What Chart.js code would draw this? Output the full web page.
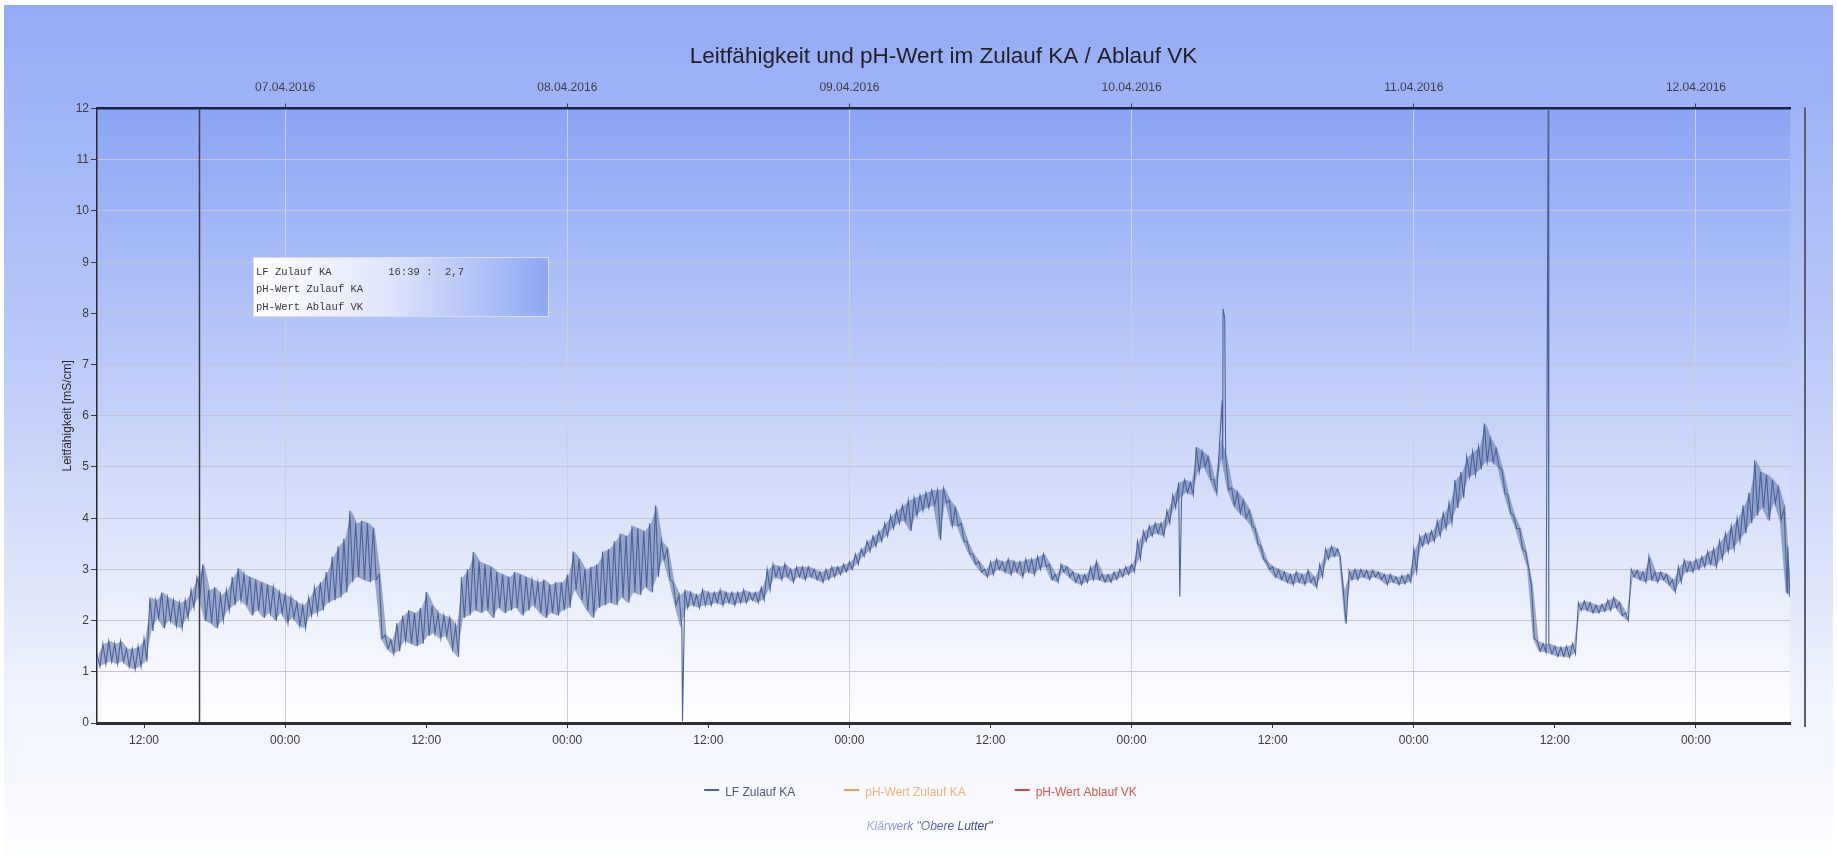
<!DOCTYPE html>
<html>
<head>
<meta charset="utf-8">
<title>Leitfähigkeit und pH-Wert im Zulauf KA / Ablauf VK</title>
<script src="https://cdn.jsdelivr.net/npm/chart.js@4.4.1/dist/chart.umd.min.js"></script>
<style>
  html, body { margin: 0; padding: 0; background: #ffffff; }
  canvas { display: block; }
</style>
</head>
<body>
<canvas id="chart" width="1837" height="861"></canvas>
<script>
// Hours are counted from 06.04.2016 00:00.
const axisStartHour = 8;     // 06.04.2016 08:00
const axisEndHour = 152;     // 12.04.2016 08:00

// Bottom axis: time of day
const timeTickHours = [12, 24, 36, 48, 60, 72, 84, 96, 108, 120, 132, 144];
const timeTickLabels = ['12:00', '00:00', '12:00', '00:00', '12:00', '00:00',
                        '12:00', '00:00', '12:00', '00:00', '12:00', '00:00'];

// Top axis: dates at midnight
const dateTickHours = [24, 48, 72, 96, 120, 144];
const dateTickLabels = ['07.04.2016', '08.04.2016', '09.04.2016',
                        '10.04.2016', '11.04.2016', '12.04.2016'];

// LF Zulauf KA [mS/cm]: lower and upper value of the signal in every half hour,
// starting at 06.04. 08:00 (one row = 12 hours).
const slotStart = 8;
const slotStep = 0.5;
const lfLow = [
  1.10, 1.15, 1.20, 1.15, 1.20, 1.10, 1.05, 1.10, 1.20, 1.80, 2.05, 1.85, 2.00, 1.90, 1.85, 2.05, 2.25, 2.45, 2.00, 1.95, 1.85, 2.00, 2.20, 2.30,
  2.40, 2.30, 2.10, 2.20, 2.05, 2.15, 2.00, 2.15, 1.95, 2.05, 1.90, 1.85, 2.10, 2.15, 2.20, 2.35, 2.40, 2.45, 2.55, 2.75, 2.85, 2.80, 2.75, 2.80,
  1.65, 1.45, 1.35, 1.40, 1.60, 1.55, 1.50, 1.55, 1.70, 1.75, 1.65, 1.70, 1.45, 1.29, 2.05, 2.10, 2.20, 2.15, 2.20, 2.05, 2.25, 2.15, 2.20, 2.25,
  2.10, 2.20, 2.30, 2.15, 2.05, 2.15, 2.10, 2.20, 2.25, 2.60, 2.40, 2.20, 2.05, 2.25, 2.30, 2.35, 2.30, 2.45, 2.35, 2.55, 2.50, 2.65, 2.55, 2.85,
  3.20, 2.80, 2.30, 1.85, 2.25, 2.30, 2.25, 2.30, 2.30, 2.35, 2.30, 2.35, 2.30, 2.35, 2.35, 2.40, 2.35, 2.40, 2.60, 2.85, 2.80, 2.85, 2.75, 2.85,
  2.80, 2.85, 2.80, 2.75, 2.80, 2.85, 2.90, 2.95, 3.00, 3.10, 3.25, 3.35, 3.45, 3.55, 3.65, 3.80, 3.90, 3.95, 3.75, 4.05, 4.15, 4.20, 4.25, 3.57,
  4.30, 3.85, 3.85, 3.55, 3.30, 3.10, 2.95, 2.85, 2.90, 3.00, 2.95, 2.90, 2.95, 2.85, 2.95, 2.90, 3.00, 3.05, 2.80, 2.75, 2.95, 2.85, 2.75, 2.70,
  2.75, 2.80, 2.80, 2.75, 2.75, 2.80, 2.85, 2.90, 2.95, 3.20, 3.55, 3.65, 3.70, 3.65, 3.90, 4.20, 4.40, 4.50, 4.45, 4.90, 5.00, 4.75, 4.48, 5.15,
  4.55, 4.25, 4.10, 4.00, 3.85, 3.50, 3.20, 3.00, 2.85, 2.80, 2.75, 2.70, 2.75, 2.70, 2.75, 2.65, 2.85, 3.20, 3.25, 3.25, 1.94, 2.80, 2.80, 2.85,
  2.80, 2.85, 2.80, 2.70, 2.75, 2.70, 2.72, 2.75, 2.95, 3.45, 3.50, 3.55, 3.65, 3.80, 3.90, 4.20, 4.40, 4.80, 4.85, 4.95, 5.10, 5.10, 5.00, 4.50,
  4.10, 3.80, 3.40, 3.05, 1.65, 1.40, 1.38, 1.35, 1.30, 1.30, 1.28, 1.35, 2.20, 2.20, 2.15, 2.15, 2.18, 2.20, 2.25, 2.10, 2.00, 2.85, 2.80, 2.75,
  2.80, 2.75, 2.80, 2.70, 2.56, 2.75, 2.95, 2.95, 3.00, 3.05, 3.10, 3.05, 3.20, 3.35, 3.40, 3.55, 3.70, 3.90, 4.05, 4.20, 3.95, 4.30, 3.96, 2.55,
  2.45
];
const lfHigh = [
  1.35, 1.55, 1.60, 1.55, 1.60, 1.45, 1.45, 1.50, 1.65, 2.45, 2.40, 2.55, 2.45, 2.40, 2.35, 2.40, 2.60, 2.85, 3.10, 2.60, 2.65, 2.50, 2.60, 2.85,
  3.02, 2.90, 2.85, 2.80, 2.75, 2.70, 2.65, 2.55, 2.50, 2.45, 2.35, 2.30, 2.45, 2.65, 2.75, 2.95, 3.25, 3.45, 3.60, 4.15, 3.90, 3.95, 3.90, 3.80,
  2.90, 1.72, 1.62, 1.95, 2.10, 2.20, 2.15, 2.25, 2.56, 2.30, 2.15, 2.10, 2.05, 1.90, 2.85, 3.00, 3.34, 3.15, 3.10, 3.05, 2.95, 2.90, 2.85, 2.95,
  2.90, 2.85, 2.80, 2.75, 2.80, 2.70, 2.75, 2.75, 2.90, 3.35, 3.20, 3.00, 3.05, 3.10, 3.35, 3.40, 3.55, 3.70, 3.65, 3.85, 3.80, 3.75, 3.90, 4.25,
  3.55, 3.40, 2.75, 2.50, 2.60, 2.55, 2.50, 2.60, 2.55, 2.55, 2.60, 2.55, 2.55, 2.55, 2.60, 2.55, 2.55, 2.65, 3.00, 3.10, 3.05, 3.10, 3.00, 3.05,
  3.05, 3.05, 3.00, 2.95, 3.00, 3.05, 3.05, 3.10, 3.15, 3.30, 3.40, 3.55, 3.65, 3.75, 3.90, 4.05, 4.15, 4.25, 4.35, 4.40, 4.45, 4.50, 4.55, 4.55,
  4.58, 4.35, 4.20, 3.90, 3.55, 3.30, 3.15, 3.00, 3.15, 3.20, 3.15, 3.20, 3.15, 3.15, 3.20, 3.20, 3.25, 3.30, 3.10, 2.90, 3.10, 3.05, 2.95, 2.90,
  2.90, 3.05, 3.15, 2.90, 2.90, 2.95, 3.00, 3.05, 3.10, 3.55, 3.75, 3.85, 3.90, 3.90, 4.15, 4.45, 4.70, 4.75, 4.70, 5.39, 5.30, 5.20, 4.75, 5.55,
  5.20, 4.60, 4.50, 4.35, 4.15, 3.80, 3.45, 3.15, 3.05, 3.00, 2.95, 2.90, 2.95, 2.90, 2.98, 2.85, 3.10, 3.40, 3.45, 3.40, 2.60, 2.98, 3.00, 3.00,
  2.98, 2.98, 2.95, 2.90, 2.90, 2.85, 2.88, 2.90, 3.40, 3.65, 3.70, 3.75, 3.95, 4.10, 4.30, 4.75, 4.90, 5.20, 5.30, 5.40, 5.85, 5.55, 5.35, 4.95,
  4.45, 4.05, 3.80, 3.35, 2.70, 1.60, 1.55, 1.55, 1.50, 1.48, 1.50, 1.55, 2.35, 2.38, 2.35, 2.30, 2.32, 2.40, 2.45, 2.35, 2.15, 3.00, 2.98, 2.95,
  3.25, 2.95, 2.95, 2.90, 2.80, 3.05, 3.18, 3.15, 3.20, 3.25, 3.35, 3.40, 3.55, 3.70, 3.85, 4.00, 4.25, 4.50, 5.13, 4.90, 4.85, 4.75, 4.60, 4.20,
  2.45
];

// Single readings between the half-hour slots (short spikes and the cursor reading)
const singleHours  = [16.65, 57.8, 100.1, 103.7, 103.78, 103.92, 131.43, 131.47, 151.8];
const singleValues = [2.7,   0.03, 2.47,  6.3,   8.09,   7.9,    12.0,   12.0,   3.45];

// Cursor position shown in the info box (16:39)
const cursorHour = 16.65;

const seriesNames  = ['LF Zulauf KA', 'pH-Wert Zulauf KA', 'pH-Wert Ablauf VK'];
const seriesColors = ['#4c6399', '#f0a04a', '#d8453a'];
const legendTextColors = ['#4e5878', '#f0b56e', '#d9574a'];
const lfBandColor = 'rgba(76, 99, 153, 0.5)';

// ---- LF series: upper value at the slot start, lower value half a slot later
const lfPoints = [];
lfLow.forEach((lo, i) => {
  const t = slotStart + i * slotStep;
  lfPoints.push({ x: t, y: lfHigh[i] });
  if (lo !== lfHigh[i]) lfPoints.push({ x: t + slotStep / 2, y: lo });
});
singleHours.forEach((h, i) => lfPoints.push({ x: h, y: singleValues[i] }));
lfPoints.sort((a, b) => a.x - b.x);

// ---- spread of the signal per slot, shaded between upper and lower value
const lfUpperEdge = lfHigh.map((v, i) => ({ x: slotStart + i * slotStep + slotStep / 4, y: v }));
const lfLowerEdge = lfLow.map((v, i) => ({ x: slotStart + i * slotStep + slotStep / 4, y: v }));

const FONT = "'Liberation Sans', Arial, sans-serif";
Chart.defaults.font.family = FONT;

function hourLabel(h) {
  const hh = Math.floor(h % 24);
  const mm = Math.round((h - Math.floor(h)) * 60);
  return String(hh).padStart(2, '0') + ':' + String(mm).padStart(2, '0');
}

// Backgrounds: page gradient and plot-area gradient
const backgroundPlugin = {
  id: 'backgrounds',
  beforeDraw(chart) {
    const { ctx, chartArea: a, width, height } = chart;
    ctx.save();
    ctx.fillStyle = '#ffffff';
    ctx.fillRect(0, 0, width, height);
    let g = ctx.createLinearGradient(0, 5, 0, height - 5);
    g.addColorStop(0, '#93aaf6');
    g.addColorStop(0.45, '#bfcdf8');
    g.addColorStop(0.8, '#eef2fd');
    g.addColorStop(1, '#fcfdff');
    ctx.fillStyle = g;
    ctx.fillRect(4, 5, width - 8, height - 10);
    g = ctx.createLinearGradient(0, a.top, 0, a.bottom);
    g.addColorStop(0, '#8aa5f4');
    g.addColorStop(0.5, '#c5d2f8');
    g.addColorStop(0.85, '#eff3fd');
    g.addColorStop(1, '#ffffff');
    ctx.fillStyle = g;
    ctx.fillRect(a.left, a.top, a.right - a.left, a.bottom - a.top);
    ctx.restore();
  }
};

// Cursor line, right frame, info box, legend and footer
const overlayPlugin = {
  id: 'overlay',
  afterDatasetsDraw(chart) {
    const { ctx, chartArea: a, scales } = chart;
    const x = Math.round(scales.x.getPixelForValue(cursorHour)) + 0.5;
    ctx.save();
    ctx.strokeStyle = '#3c3d44';
    ctx.lineWidth = 1.5;
    ctx.beginPath();
    ctx.moveTo(x, a.top);
    ctx.lineTo(x, a.bottom);
    ctx.stroke();
    ctx.restore();
  },
  afterDraw(chart) {
    const { ctx, chartArea: a } = chart;
    ctx.save();

    // frame line right of the plot
    ctx.strokeStyle = '#5b6070';
    ctx.lineWidth = 2;
    ctx.beginPath();
    ctx.moveTo(a.right + 15, a.top - 1);
    ctx.lineTo(a.right + 15, a.bottom + 4);
    ctx.stroke();

    // info box with the cursor reading
    const bx = 253, by = 257, bw = 296, bh = 60;
    const g = ctx.createLinearGradient(bx, 0, bx + bw, 0);
    g.addColorStop(0, '#ffffff');
    g.addColorStop(0.45, '#dfe6fb');
    g.addColorStop(1, '#8ea7f4');
    ctx.fillStyle = g;
    ctx.fillRect(bx, by, bw, bh);
    ctx.strokeStyle = '#d6dcef';
    ctx.lineWidth = 1;
    ctx.strokeRect(bx + 0.5, by + 0.5, bw - 1, bh - 1);

    const ci = singleHours.indexOf(cursorHour);
    const reading = singleValues[ci].toFixed(1).replace('.', ',');
    const lines = [
      seriesNames[0].padEnd(21, ' ') + hourLabel(cursorHour) + ' :  ' + reading,
      seriesNames[1],
      seriesNames[2]
    ];
    ctx.font = "10.5px 'Liberation Mono', 'DejaVu Sans Mono', monospace";
    ctx.fillStyle = '#3a3a3a';
    ctx.textAlign = 'left';
    ctx.textBaseline = 'middle';
    lines.forEach((t, i) => ctx.fillText(t, bx + 3, by + 15 + i * 17.5));

    // legend
    ctx.font = '12px ' + FONT;
    const mark = 15, gap = 6, itemGap = 49;
    const widths = seriesNames.map(n => mark + gap + ctx.measureText(n).width);
    const total = widths.reduce((s, w) => s + w, 0) + itemGap * (seriesNames.length - 1);
    let lx = chart.width / 2 + 2 - total / 2;
    const ly = 793;
    seriesNames.forEach((n, i) => {
      ctx.strokeStyle = seriesColors[i];
      ctx.lineWidth = 2;
      ctx.beginPath();
      ctx.moveTo(lx, ly - 3);
      ctx.lineTo(lx + mark, ly - 3);
      ctx.stroke();
      ctx.fillStyle = legendTextColors[i];
      ctx.fillText(n, lx + mark + gap, ly);
      lx += widths[i] + itemGap;
    });

    // footer
    const footer = 'Klärwerk "Obere Lutter"';
    ctx.font = 'italic 12px ' + FONT;
    const fw = ctx.measureText(footer).width;
    const fx = chart.width / 2 + 11 - fw / 2;
    const fg = ctx.createLinearGradient(fx, 0, fx + fw, 0);
    fg.addColorStop(0, '#a3aeea');
    fg.addColorStop(1, '#26349c');
    ctx.fillStyle = fg;
    ctx.fillText(footer, fx, 827);

    ctx.restore();
  }
};

new Chart(document.getElementById('chart'), {
  type: 'line',
  data: {
    datasets: [
      { label: seriesNames[0], data: lfPoints, borderColor: seriesColors[0], borderWidth: 1.1,
        pointRadius: 0, tension: 0, fill: false, order: 0, xAxisID: 'x', yAxisID: 'y' },
      { label: 'LF Zulauf KA (max)', data: lfUpperEdge, borderWidth: 0, borderColor: 'rgba(0,0,0,0)',
        backgroundColor: lfBandColor, pointRadius: 0, tension: 0, fill: '+1', order: 1,
        xAxisID: 'x', yAxisID: 'y' },
      { label: 'LF Zulauf KA (min)', data: lfLowerEdge, borderWidth: 0, borderColor: 'rgba(0,0,0,0)',
        pointRadius: 0, tension: 0, fill: false, order: 2, xAxisID: 'x', yAxisID: 'y' },
      { label: seriesNames[1], data: [], borderColor: seriesColors[1], borderWidth: 1.1,
        pointRadius: 0, order: 3, xAxisID: 'x', yAxisID: 'y' },
      { label: seriesNames[2], data: [], borderColor: seriesColors[2], borderWidth: 1.1,
        pointRadius: 0, order: 4, xAxisID: 'x', yAxisID: 'y' }
    ]
  },
  options: {
    responsive: false,
    animation: false,
    parsing: false,
    events: [],
    layout: { padding: { left: 0, right: 47, top: 0, bottom: 108 } },
    plugins: {
      legend: { display: false },
      tooltip: { enabled: false },
      filler: { propagate: false },
      title: {
        display: true,
        fullSize: false,
        text: 'Leitfähigkeit und pH-Wert im Zulauf KA / Ablauf VK',
        color: '#222222',
        font: { family: FONT, size: 22.5, weight: 'normal' },
        padding: { top: 43, bottom: 12.6 }
      }
    },
    scales: {
      x: {
        type: 'linear',
        position: 'bottom',
        min: axisStartHour,
        max: axisEndHour,
        afterBuildTicks: (s) => { s.ticks = timeTickHours.map(v => ({ value: v })); },
        afterFit: (s) => { s.height = 30; },
        ticks: {
          autoSkip: false,
          maxRotation: 0,
          padding: 5,
          color: '#3c3c3c',
          font: { size: 12 },
          callback: (v, i) => timeTickLabels[i]
        },
        grid: {
          color: (c) => (c.tick && c.tick.value % 24 === 0) ? '#cdd0d8' : 'rgba(0,0,0,0)',
          tickColor: '#3a3a3a',
          tickLength: 5,
          lineWidth: 1
        },
        border: { display: true, color: '#2c2d36', width: 3 }
      },
      x2: {
        type: 'linear',
        position: 'top',
        min: axisStartHour,
        max: axisEndHour,
        afterBuildTicks: (s) => { s.ticks = dateTickHours.map(v => ({ value: v })); },
        afterFit: (s) => { s.height = 26; },
        ticks: {
          autoSkip: false,
          maxRotation: 0,
          padding: 8.5,
          color: '#3c3c3c',
          font: { size: 12 },
          callback: (v, i) => dateTickLabels[i]
        },
        grid: { drawOnChartArea: false, tickColor: '#3a3a3a', tickLength: 5 },
        border: { display: true, color: '#1b2347', width: 2.5 }
      },
      y: {
        type: 'linear',
        position: 'left',
        min: 0,
        max: 12,
        afterFit: (s) => { s.width = 97; },
        ticks: { stepSize: 1, padding: 2, color: '#3c3c3c', font: { size: 12 } },
        grid: { color: '#c3c6cf', tickColor: '#3a3a3a', tickLength: 6, lineWidth: 1 },
        border: { display: true, color: '#2a2a2e', width: 1.5 },
        title: {
          display: true,
          text: 'Leitfähigkeit [mS/cm]',
          color: '#2a2a2a',
          font: { size: 12 },
          padding: { top: 60, bottom: 0 }
        }
      }
    }
  },
  plugins: [backgroundPlugin, overlayPlugin]
});
</script>
</body>
</html>
